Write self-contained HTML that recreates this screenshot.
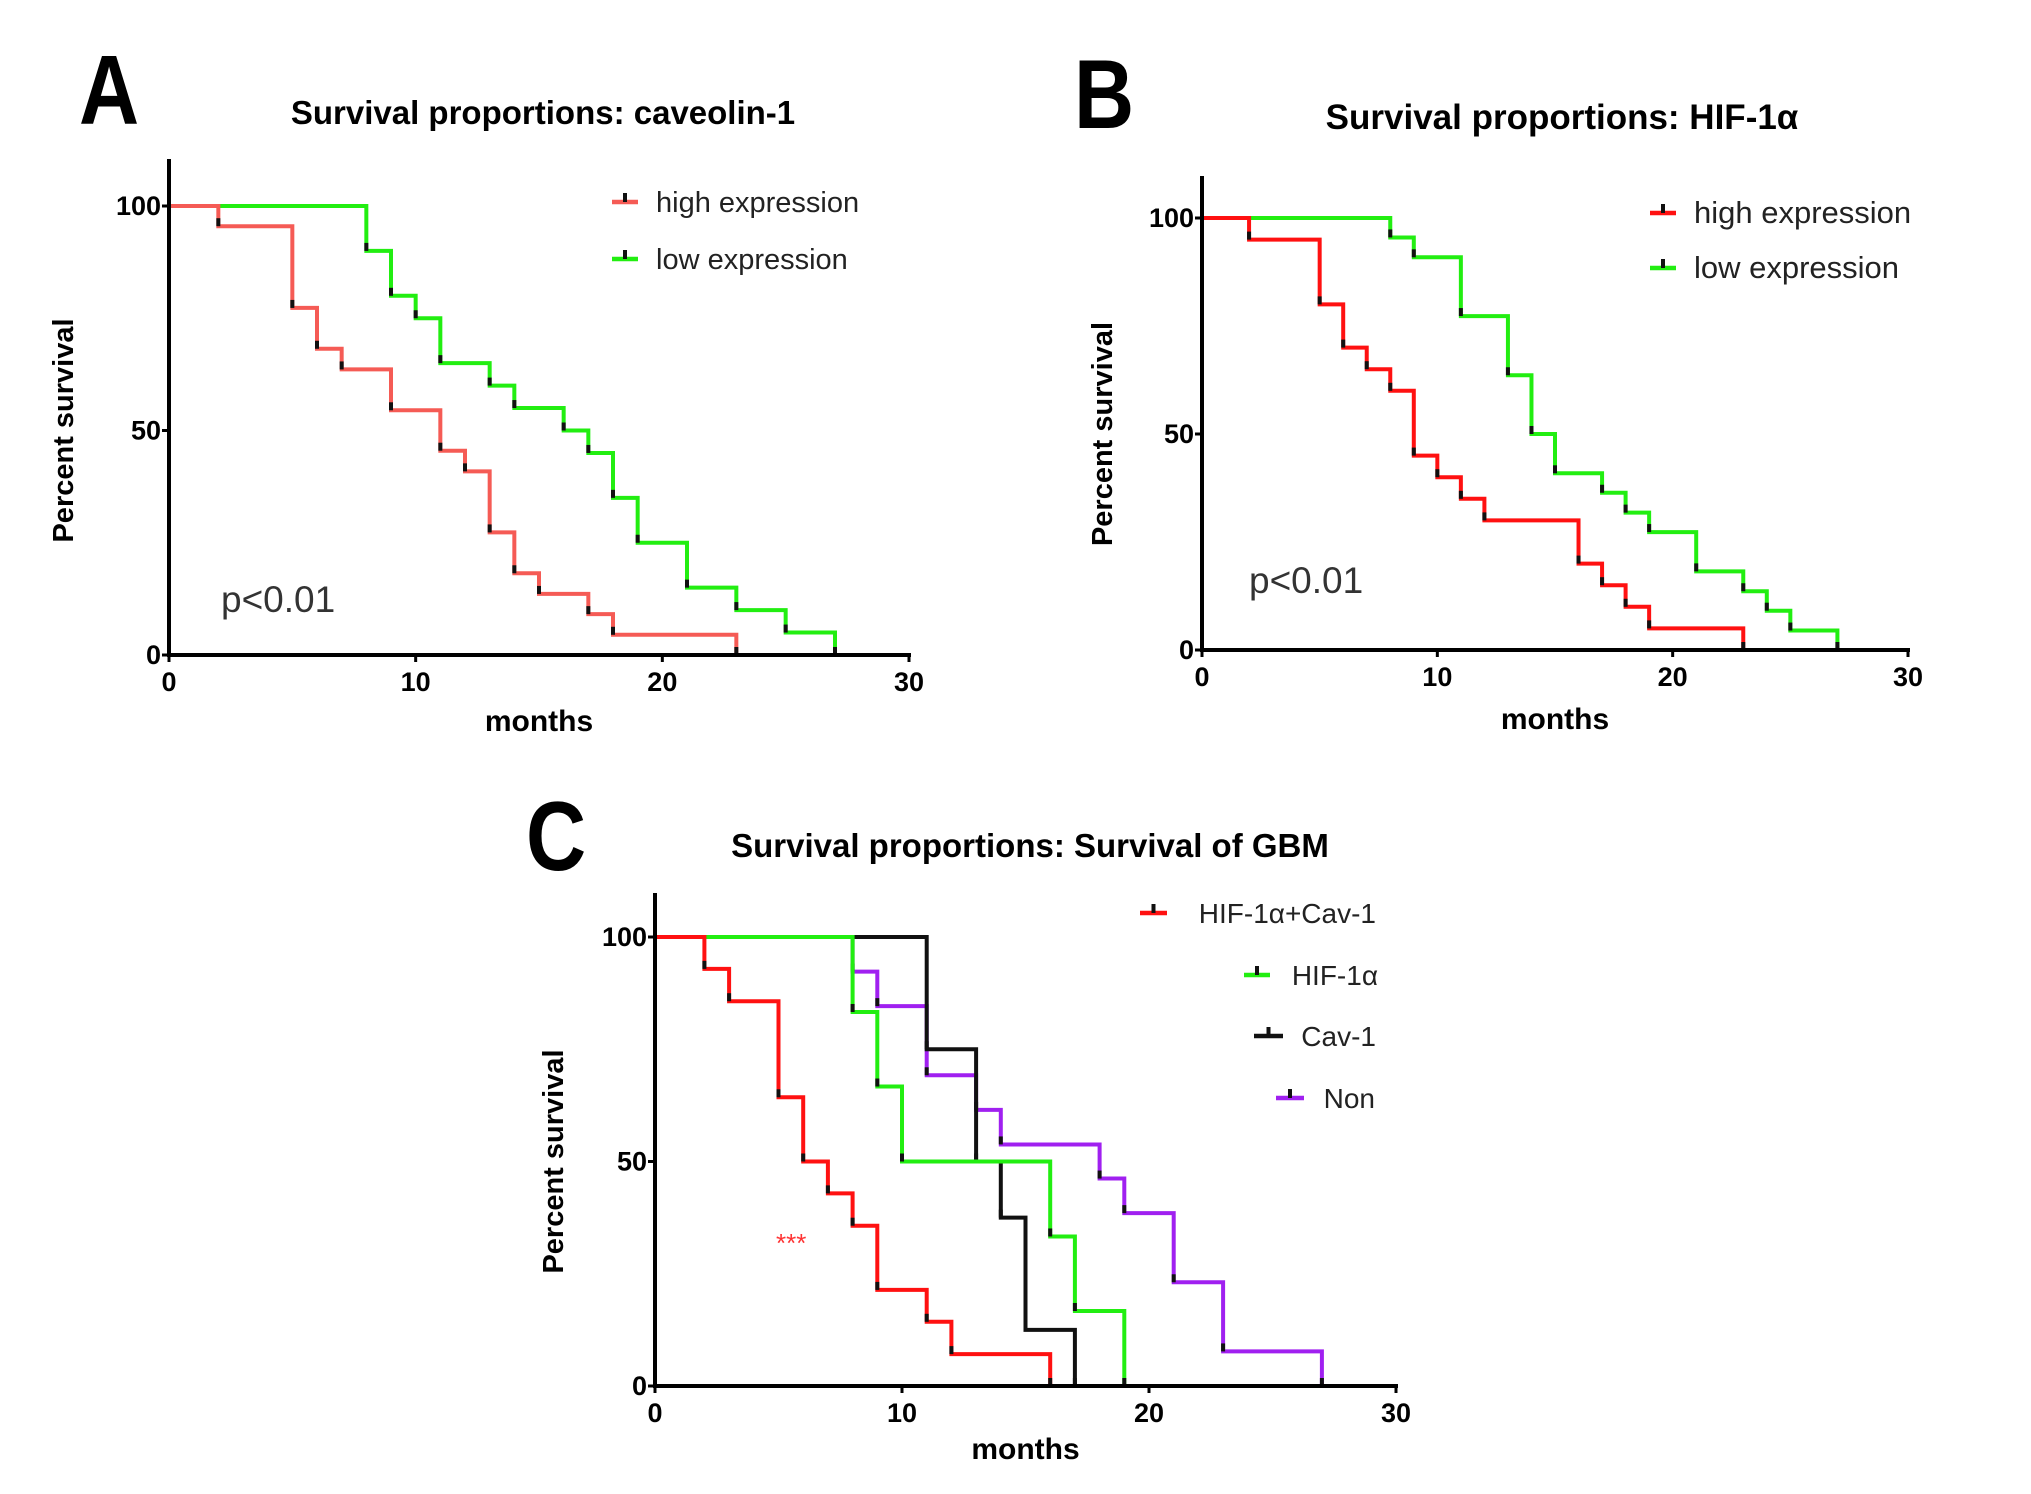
<!DOCTYPE html>
<html><head><meta charset="utf-8"><style>
body{margin:0;background:#fff}
svg{display:block}
text{font-family:"Liberation Sans",sans-serif}
.tick{font-family:"Liberation Sans Narrow","Liberation Sans",sans-serif;font-weight:bold;font-size:27px}
</style></head><body>
<svg id="fig" width="2031" height="1494" viewBox="0 0 2031 1494" xmlns="http://www.w3.org/2000/svg"></svg>
<script>
const NS="http://www.w3.org/2000/svg";
// Panel A data
const aHighT=[0,2,5,6,7,9,11,12,13,14,15,17,18,23];
const aHighS=[100,95.5,77.3,68.2,63.6,54.5,45.5,40.9,27.3,18.2,13.6,9.1,4.5,0];
const aLowT=[0,8,9,10,11,13,14,16,17,18,19,21,23,25,27];
const aLowS=[100,90,80,75,65,60,55,50,45,35,25,15,10,5,0];
// Panel B data
const bHighT=[0,2,5,6,7,8,9,10,11,12,16,17,18,19,23];
const bHighS=[100,95,80,70,65,60,45,40,35,30,20,15,10,5,0];
const bLowT=[0,8,9,11,13,14,15,17,18,19,21,23,24,25,27];
const bLowS=[100,95.5,90.9,77.3,63.6,50,40.9,36.4,31.8,27.3,18.2,13.6,9.1,4.5,0];
// Panel C data
const cRedT=[0,2,3,5,6,7,8,9,11,12,16];
const cRedS=[100,92.9,85.7,64.3,50,42.9,35.7,21.4,14.3,7.1,0];
const cGreenT=[0,8,9,10,16,17,19];
const cGreenS=[100,83.3,66.7,50,33.3,16.7,0];
const cBlackT=[0,11,13,14,15,17];
const cBlackS=[100,75,50,37.5,12.5,0];
const cPurpleT=[0,8,9,11,13,14,18,19,21,23,27];
const cPurpleS=[100,92.3,84.6,69.2,61.5,53.8,46.2,38.5,23.1,7.7,0];
const xTicks=[0,10,20,30];
const yTicks=[0,50,100];

const svg=document.getElementById('fig');
function el(tag,attrs,parent){const e=document.createElementNS(NS,tag);for(const k in attrs)e.setAttribute(k,attrs[k]);(parent||svg).appendChild(e);return e;}
function txt(s,attrs,parent){const e=el('text',attrs,parent);e.textContent=s;return e;}

function panel(cfg){
  const g=el('g',{});
  
  
  const X=v=>cfg.x0+(cfg.x30-cfg.x0)*v/30;
  const Y=v=>cfg.y0+(cfg.y100-cfg.y0)*v/100;
  cfg.series.forEach(s=>{
    let d='M'+X(0)+','+Y(s.s[0]);
    for(let i=1;i<s.t.length;i++){d+=' H'+X(s.t[i])+' V'+Y(s.s[i]);}
    const p=el('path',{d:d,fill:'none',stroke:s.color,'stroke-width':4},g);
    
    
    for(let i=1;i<s.t.length;i++){
      const m=el('rect',{x:X(s.t[i])-2,y:Y(s.s[i])-8,width:4,height:8,fill:'#111'},g);
      
      
    }
  });
  const ya=el('line',{x1:cfg.x0,y1:cfg.ytop,x2:cfg.x0,y2:cfg.y0+2,stroke:'#000','stroke-width':4},g);
  
  
  const xa=el('line',{x1:cfg.x0-2,y1:cfg.y0,x2:cfg.x30+2,y2:cfg.y0,stroke:'#000','stroke-width':4},g);
  
  
  yTicks.forEach(v=>{
    el('line',{x1:cfg.x0-7,y1:Y(v),x2:cfg.x0,y2:Y(v),stroke:'#000','stroke-width':3},g);
    const t=txt(String(v),{x:cfg.x0-8,y:Y(v)+9,'text-anchor':'end',class:'tick'},g);
    
    
  });
  xTicks.forEach(v=>{
    el('line',{x1:X(v),y1:cfg.y0,x2:X(v),y2:cfg.y0+7,stroke:'#000','stroke-width':3},g);
    const t=txt(String(v),{x:X(v),y:cfg.y0+36,'text-anchor':'middle',class:'tick'},g);
    
    
  });
  const xt=txt('months',{x:(cfg.x0+cfg.x30)/2,y:cfg.mY,'text-anchor':'middle','font-weight':'bold','font-size':30},g);
  
  
  const yc=(cfg.y0+cfg.y100)/2;
  const yt=txt('Percent survival',{x:cfg.ylx,y:yc,'text-anchor':'middle','font-weight':'bold','font-size':29,transform:'rotate(-90 '+cfg.ylx+' '+yc+')'},g);
  
  
  const ti=txt(cfg.title,{x:cfg.tx,y:cfg.ty,'text-anchor':'middle','font-weight':'bold','font-size':cfg.tfs},g);
  
  
  const lt=txt(cfg.letter,{x:cfg.lx/0.85,y:cfg.ly,'font-weight':'bold','font-size':98,transform:'scale(0.85,1)'},g);
  
  
  cfg.legend.forEach(L=>{
    const lg=el('g',{},g);
    
    
    el('line',{x1:L.lx1,y1:L.y,x2:L.lx2,y2:L.y,stroke:L.color,'stroke-width':4.5},lg);
    el('rect',{x:(L.lx1+L.lx2)/2-2,y:L.y-9,width:4,height:9,fill:'#111'},lg);
    txt(L.label,{x:L.tx,y:L.y+10,'text-anchor':L.anchor,'font-size':cfg.lfs,fill:'#222'},lg);
  });
  if(cfg.note){
    const n=txt(cfg.note.s,{x:cfg.note.x,y:cfg.note.y,'font-size':cfg.note.fs,fill:cfg.note.fill},g);
    
    
  }
}

panel({name:'panel-a',letter:'A',lx:79,ly:124,title:'Survival proportions: caveolin-1',tx:543,ty:124,tfs:33,
  x0:169,x30:909,y0:655,y100:206,ytop:159,ylx:73,lfs:29,mY:731,
  series:[{name:'low-expression-line',t:aLowT,s:aLowS,color:'#22ee11'},{name:'high-expression-line',t:aHighT,s:aHighS,color:'#f55b55'}],
  legend:[{label:'high expression',lx1:612,lx2:638,tx:656,y:202,anchor:'start',color:'#f55b55'},
          {label:'low expression',lx1:612,lx2:638,tx:656,y:259,anchor:'start',color:'#22ee11'}],
  note:{s:'p<0.01',x:221,y:612,fs:37,fill:'#333'}});

panel({name:'panel-b',letter:'B',lx:1074,ly:128,title:'Survival proportions: HIF-1α',tx:1562,ty:129,tfs:35,
  x0:1202,x30:1908,y0:650,y100:218,ytop:176,ylx:1112,lfs:31,mY:729,
  series:[{name:'low-expression-line',t:bLowT,s:bLowS,color:'#22ee11'},{name:'high-expression-line',t:bHighT,s:bHighS,color:'#ff1111'}],
  legend:[{label:'high expression',lx1:1650,lx2:1676,tx:1694,y:213,anchor:'start',color:'#ff1111'},
          {label:'low expression',lx1:1650,lx2:1676,tx:1694,y:268,anchor:'start',color:'#22ee11'}],
  note:{s:'p<0.01',x:1249,y:593,fs:37,fill:'#333'}});

panel({name:'panel-c',letter:'C',lx:526,ly:870,title:'Survival proportions: Survival of GBM',tx:1030,ty:857,tfs:33,
  x0:655,x30:1396,y0:1386,y100:937,ytop:893,ylx:563,lfs:28,mY:1459,
  series:[{name:'non-line',t:cPurpleT,s:cPurpleS,color:'#a020f0'},{name:'cav-1-line',t:cBlackT,s:cBlackS,color:'#111'},
          {name:'hif-1a-line',t:cGreenT,s:cGreenS,color:'#22ee11'},{name:'hif-1a-cav-1-line',t:cRedT,s:cRedS,color:'#ff1111'}],
  legend:[{label:'HIF-1α+Cav-1',lx1:1140,lx2:1167,tx:1376,y:913,anchor:'end',color:'#ff1111'},
          {label:'HIF-1α',lx1:1244,lx2:1270,tx:1378,y:975,anchor:'end',color:'#22ee11'},
          {label:'Cav-1',lx1:1254,lx2:1283,tx:1376,y:1036,anchor:'end',color:'#111'},
          {label:'Non',lx1:1276,lx2:1304,tx:1375,y:1098,anchor:'end',color:'#a020f0'}],
  note:{s:'***',x:776,y:1252,fs:26,fill:'#ff3333'}});
</script>
</body></html>
